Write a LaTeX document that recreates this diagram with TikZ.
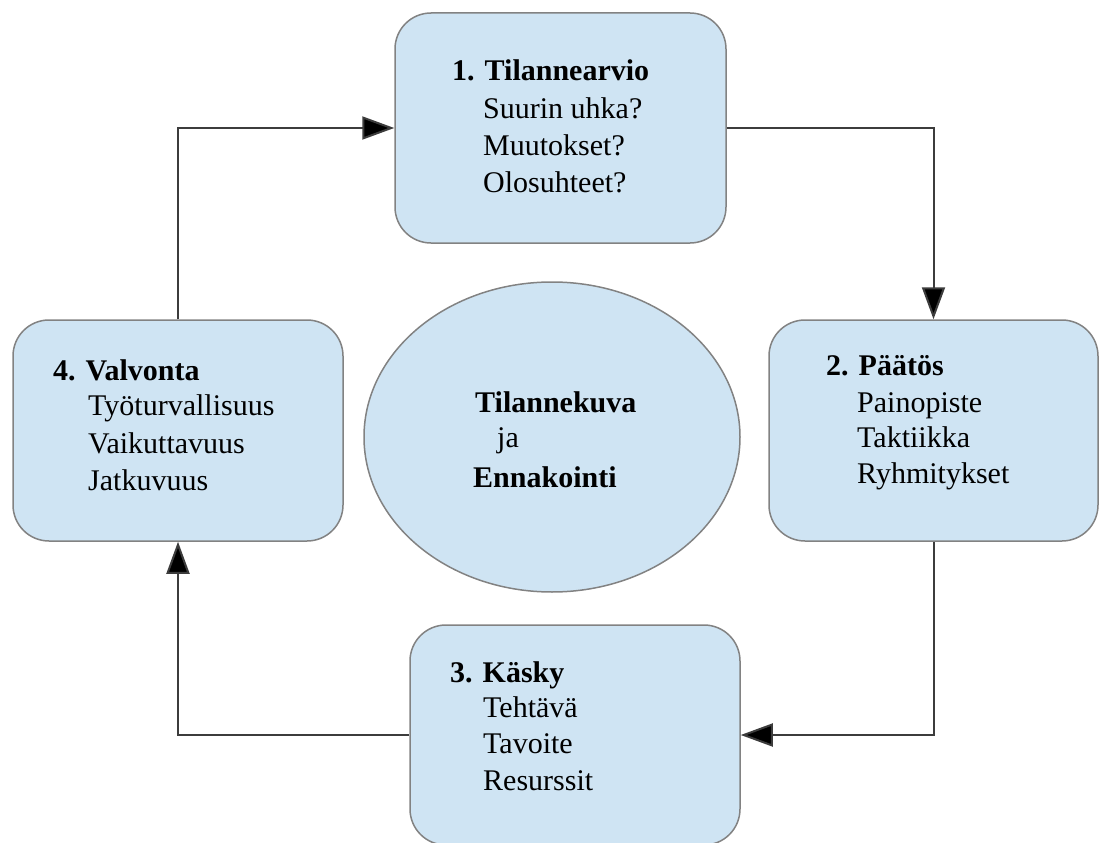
\documentclass[tikz,border=0pt]{standalone}
\usepackage{fontspec}
\setmainfont{Liberation Serif}
\usetikzlibrary{arrows.meta,shapes.geometric}
\definecolor{boxfill}{RGB}{207,228,243}
\definecolor{boxline}{RGB}{130,130,130}
\definecolor{connline}{RGB}{60,60,60}
\tikzset{
  stepbox/.style={draw=boxline, line width=1.5pt, fill=boxfill, rounded corners=36pt, inner sep=0pt},
  centre/.style={draw=boxline, line width=1.5pt, fill=boxfill, ellipse, inner sep=0pt},
  conn/.style={draw=connline, line width=2pt, -{Triangle[length=32pt,width=23pt,fill=black]}},
  txt/.style={anchor=base west, inner sep=0pt, font=\fontsize{30pt}{36pt}\selectfont},
  ttl/.style={txt, font=\fontsize{30pt}{36pt}\selectfont\bfseries},
}
\begin{document}
\begin{tikzpicture}[x=1pt,y=-1pt]
\useasboundingbox (0,0) rectangle (1101,843);
% boxes
\node[stepbox, minimum width=331pt, minimum height=230pt] (b1) at (560.5,128) {};
\node[stepbox, minimum width=329pt, minimum height=221pt] (b2) at (933.5,430.5) {};
\node[stepbox, minimum width=330pt, minimum height=220pt] (b3) at (575,735) {};
\node[stepbox, minimum width=330pt, minimum height=221pt] (b4) at (178,430.5) {};
\node[centre, minimum width=376pt, minimum height=310pt] (c) at (552,437) {};
% connectors
\draw[conn] (b4.north) |- (b1.west);
\draw[conn] (b1.east) -| (b2.north);
\draw[conn] (b2.south) |- (b3.east);
\draw[conn] (b3.west) -| (b4.south);
% box 1 text
\node[ttl] (t1a) at (452,81) {1. Tilannearvio};
\node[txt] (t1b) at (483,118) {Suurin uhka?};
\node[txt] (t1c) at (483,155) {Muutokset?};
\node[txt] (t1d) at (483,192) {Olosuhteet?};
% box 2 text
\node[ttl] (t2a) at (826,375) {2. Päätös};
\node[txt] (t2b) at (857,412) {Painopiste};
\node[txt] (t2c) at (857,447) {Taktiikka};
\node[txt] (t2d) at (857,483) {Ryhmitykset};
% box 3 text
\node[ttl] (t3a) at (450,682) {3. Käsky};
\node[txt] (t3b) at (483,717) {Tehtävä};
\node[txt] (t3c) at (483,753) {Tavoite};
\node[txt] (t3d) at (483,790) {Resurssit};
% box 4 text
\node[ttl] (t4a) at (53,380) {4. Valvonta};
\node[txt] (t4b) at (88,415) {Työturvallisuus};
\node[txt] (t4c) at (88,453) {Vaikuttavuus};
\node[txt] (t4d) at (88,490) {Jatkuvuus};
% centre text
\node[ttl] (tca) at (475,412) {Tilannekuva};
\node[txt] (tcb) at (497,447) {ja};
\node[ttl] (tcc) at (473,487) {Ennakointi};
\end{tikzpicture}
\end{document}
